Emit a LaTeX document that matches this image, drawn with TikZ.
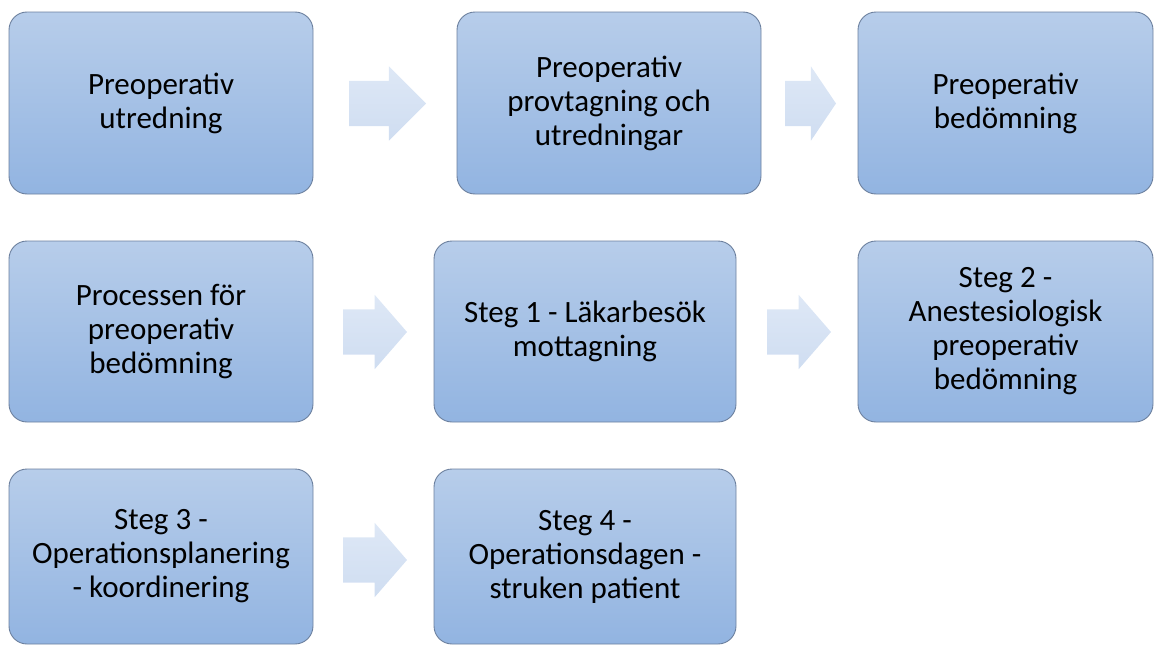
\documentclass[tikz,border=0pt]{standalone}
\usepackage{fontspec}
\setmainfont{Carlito}
\usepackage{tikz}
\usetikzlibrary{shapes.arrows,positioning}
\definecolor{boxtop}{RGB}{183,205,234}
\definecolor{boxbot}{RGB}{146,180,225}
\definecolor{boxline}{RGB}{108,128,158}
\definecolor{arrtop}{RGB}{222,232,246}
\definecolor{arrbot}{RGB}{207,221,241}

\begin{document}
\begin{tikzpicture}[x=1pt, y=-1pt,
    stage/.style={rectangle, rounded corners=18pt, draw=boxline, line width=0.9pt,
        top color=boxtop, bottom color=boxbot, align=center, inner sep=0pt,
        font=\fontsize{31}{34}\selectfont, minimum width=304pt, minimum height=182pt},
    blk/.style={single arrow, draw=none, top color=arrtop, bottom color=arrbot,
        inner xsep=0pt, inner ysep=22.5pt, outer sep=0pt, anchor=tail,
        single arrow head extend=14.5pt, single arrow tip angle=98, minimum height=64pt}
]
    \useasboundingbox (0,0) rectangle (1154,645);

    % Row 1
    \node[stage] (utr) at (161,103) {Preoperativ\\utredning};
    \node[stage] (prov) at (609,103) {Preoperativ\\provtagning och\\utredningar};
    \node[stage, minimum width=295pt] (bed) at (1005.5,103) {Preoperativ\\bedömning};
    \node[blk, minimum height=77pt, single arrow tip angle=90] (a1) at (349,103.5) {};
    \node[blk, minimum height=51pt, single arrow tip angle=112] (a2) at (785,103.5) {};

    % Row 2
    \node[stage, minimum height=181pt] (proc) at (161,331.5) {Processen för\\preoperativ\\bedömning};
    \node[stage, minimum width=302pt, minimum height=181pt] (steg1) at (585,331.5) {Steg 1 - Läkarbesök\\mottagning};
    \node[stage, minimum width=295pt, minimum height=181pt] (steg2) at (1005.5,331.5) {Steg 2 -\\Anestesiologisk\\preoperativ\\bedömning};
    \node[blk] (a3) at (343,332) {};
    \node[blk] (a4) at (767,332) {};

    % Row 3
    \node[stage, minimum height=175pt] (steg3) at (161,556.5) {Steg 3 -\\Operationsplanering\\- koordinering};
    \node[stage, minimum width=302pt, minimum height=175pt] (steg4) at (585,556.5) {Steg 4 -\\Operationsdagen -\\struken patient};
    \node[blk] (a5) at (343,560) {};
\end{tikzpicture}
\end{document}
